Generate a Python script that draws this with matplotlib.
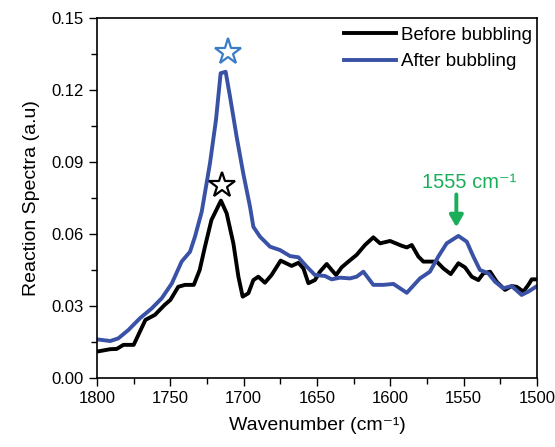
import matplotlib
matplotlib.use("Agg")
import matplotlib.pyplot as plt
from matplotlib.ticker import MultipleLocator

plt.rcParams['font.family'] = ['Liberation Sans', 'DejaVu Sans']

wn_before = [1800, 1791, 1786.6, 1782, 1775, 1767, 1760.5, 1754, 1750, 1744.6, 1740, 1734,
             1730, 1726.4, 1722, 1715.5, 1711.6, 1707, 1703.6, 1700.7, 1696.8, 1693.4, 1690,
             1685.5, 1681, 1674.8, 1667.3, 1662.7, 1659.3, 1655.9, 1651.4, 1648, 1643.4, 1640,
             1637, 1633.2, 1628.6, 1623, 1617.3, 1611.6, 1607, 1600.2, 1592.3, 1588.8, 1585.4,
             1580.9, 1577.5, 1568.4, 1563.9, 1558.8, 1553.6, 1549.1, 1544.5, 1540, 1536.6, 1532,
             1527.5, 1521.8, 1517.3, 1513.9, 1509.3, 1505.9, 1503.6, 1500]
ab_before = [0.011, 0.012, 0.0121, 0.0138, 0.0138, 0.0242, 0.0263, 0.0304, 0.0325, 0.038, 0.0388,
             0.0388, 0.045, 0.0547, 0.0658, 0.0739, 0.0686, 0.056, 0.0422, 0.0339, 0.0353, 0.0408,
             0.0422, 0.0397, 0.0429, 0.0489, 0.0467, 0.048, 0.0457, 0.0395, 0.0408, 0.0443, 0.0475,
             0.045, 0.0429, 0.0461, 0.0485, 0.0513, 0.0554, 0.0586, 0.0561, 0.0571, 0.0551, 0.0544,
             0.0554, 0.0506, 0.0485, 0.0485, 0.0457, 0.0433, 0.0478, 0.0461, 0.0422, 0.0408, 0.0436,
             0.0443, 0.0401, 0.0367, 0.0383, 0.038, 0.036, 0.0388, 0.0411, 0.0411]

wn_after = [1800, 1791, 1785.5, 1778.6, 1770.7, 1762.7, 1755.9, 1749, 1742.3, 1736.6, 1733.2,
            1728.6, 1723, 1718.9, 1715.7, 1712.3, 1709.3, 1704.8, 1700.3, 1695.7, 1693.4, 1688.9,
            1682, 1675.2, 1668.4, 1662.7, 1657, 1651.4, 1644.5, 1640, 1634.3, 1627.5, 1623, 1618.4,
            1611.6, 1604.8, 1597.9, 1588.8, 1579.8, 1573, 1567.3, 1561.6, 1553.6, 1547.9, 1543.4,
            1538.9, 1533.2, 1528.6, 1523, 1517.3, 1510.5, 1505.9, 1500]
ab_after = [0.0161, 0.0154, 0.0165, 0.02, 0.0249, 0.029, 0.0332, 0.0394, 0.0485, 0.0526, 0.0589,
            0.0693, 0.0894, 0.1075, 0.127, 0.1276, 0.1172, 0.1005, 0.0853, 0.0714, 0.063, 0.0589,
            0.0547, 0.0533, 0.0508, 0.0503, 0.0464, 0.0429, 0.0425, 0.0411, 0.0418, 0.0415, 0.0422,
            0.0443, 0.0388, 0.0388, 0.0392, 0.0355, 0.0415, 0.0443, 0.0506, 0.0561, 0.0592, 0.0568,
            0.0506, 0.045, 0.0436, 0.0401, 0.0374, 0.0383, 0.0346, 0.036, 0.0383]

star_blue = (1711, 0.1358)
star_black = (1714.5, 0.0805)
peak_label = "1555 cm\u207b\u00b9"
peak_pos = 1555
series_names = ["Before bubbling", "After bubbling"]

fig = plt.figure(figsize=(5.55, 4.47), dpi=100)
ax = fig.add_axes([0.1748, 0.1544, 0.7928, 0.8053])

ax.plot(wn_before, ab_before, color='black', lw=2.8, label=series_names[0], solid_joinstyle='round')
ax.plot(wn_after, ab_after, color='#3a52a6', lw=2.8, label=series_names[1], solid_joinstyle='round')

ax.plot(*star_blue, marker='*', ms=20, mfc='white', mec='#3b7cc6', mew=1.6, ls='none')
ax.plot(*star_black, marker='*', ms=19, mfc='white', mec='black', mew=1.6, ls='none')

green = '#1aae5a'
ax.annotate('', xy=(peak_pos, 0.0628), xytext=(peak_pos, 0.0765),
            arrowprops=dict(arrowstyle='-|>,head_width=0.4,head_length=0.7', color=green, lw=2.8,
                            shrinkA=0, shrinkB=0))
ax.text(1546.5, 0.0792, peak_label, color=green, fontsize=14.5, ha='center', va='baseline',
        family=['Liberation Sans', 'DejaVu Sans'])

ax.set_xlim(1800, 1500)
ax.set_ylim(0, 0.15)
ax.xaxis.set_major_locator(MultipleLocator(50))
ax.xaxis.set_minor_locator(MultipleLocator(25))
ax.yaxis.set_major_locator(MultipleLocator(0.03))
ax.yaxis.set_minor_locator(MultipleLocator(0.015))
ax.yaxis.set_major_formatter(plt.FuncFormatter(lambda v, p: f"{v:.2f}"))
ax.tick_params(which='major', direction='out', length=6, width=1, labelsize=12)
ax.tick_params(which='minor', direction='out', length=4, width=1)
for s in ax.spines.values():
    s.set_linewidth(1.2)

ax.set_xlabel("Wavenumber (cm\u207b\u00b9)", fontsize=14, labelpad=8)
ax.set_ylabel("Reaction Spectra (a.u)", fontsize=14, labelpad=8)

leg = ax.legend(loc='upper right', frameon=False, fontsize=13.5, handlelength=2.8,
                handletextpad=0.27, labelspacing=0.5, borderaxespad=0.05,
                bbox_to_anchor=(1.008, 1.0))

fig.savefig("out.png", dpi=100)
